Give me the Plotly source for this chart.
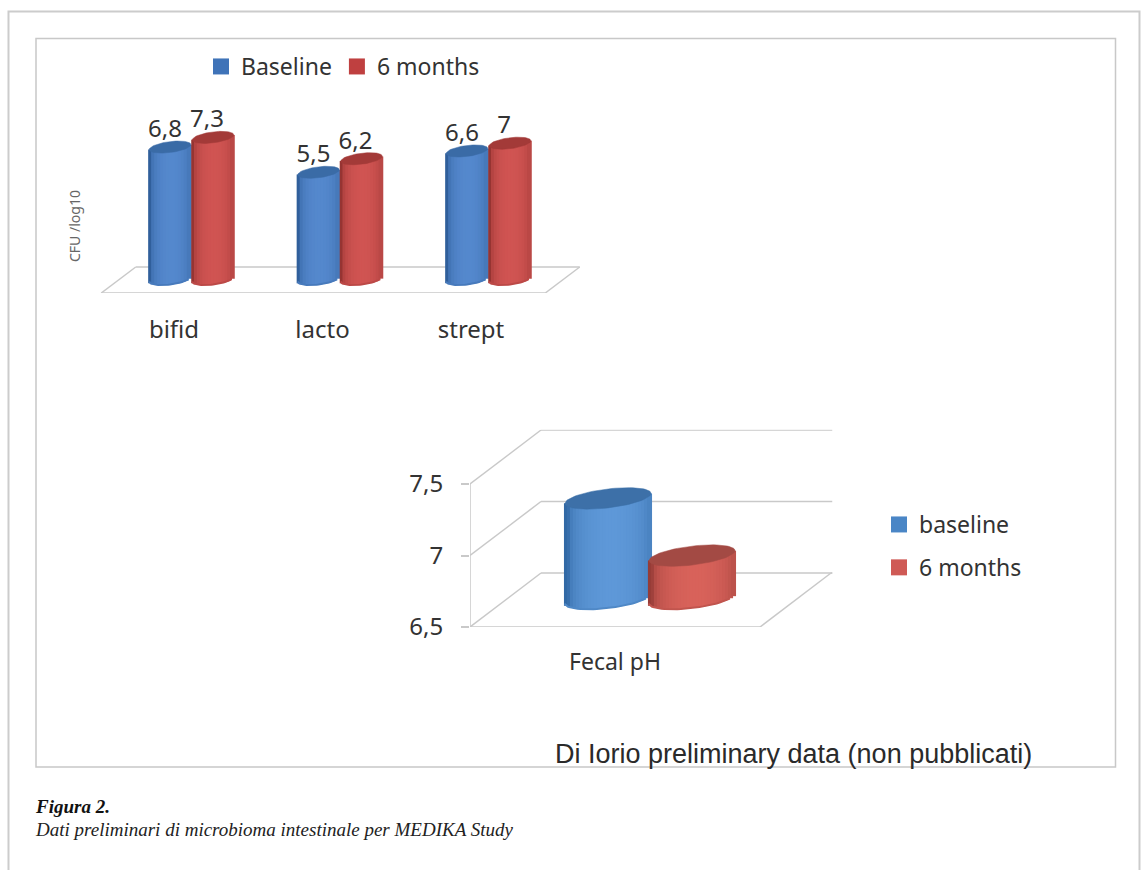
import math
import plotly.graph_objects as go

# ---------- data ----------
categories = ["bifid", "lacto", "strept"]
baseline_cfu = [6.8, 5.5, 6.6]
months6_cfu = [7.3, 6.2, 7.0]
cfu_labels_baseline = ["6,8", "5,5", "6,6"]
cfu_labels_months = ["7,3", "6,2", "7"]
ph_category = ["Fecal pH"]
ph_baseline = [7.2]
ph_months = [6.8]
ph_ticks = [6.5, 7.0, 7.5]
ph_ticktext = ["6,5", "7", "7,5"]

W, H = 1146, 870
GRID = "#c9c9c9"
TEXT = "#333333"
BODY = "Noto Sans"

# ---------- axis geometry (pixels) ----------
A = dict(x_zero=174, x_unit=148.5, x_lo=-0.5, x_hi=2.75, y_zero=293, y_unit=19.4, y_lo=0, y_hi=8.6,
         dx=17.5, dy=14, half=20.8, ell=5.5, tilt=2.5)
B = dict(x_zero=615, x_unit=290, x_lo=-0.5, x_hi=0.75, y_zero=627, y_unit=143, y_lo=6.5, y_hi=7.88,
         dx=35, dy=28.5, half=43, ell=9.5, tilt=5)


def dom_x(g):
    return [(g["x_zero"] + g["x_lo"] * g["x_unit"]) / W, (g["x_zero"] + g["x_hi"] * g["x_unit"]) / W]


def dom_y(g):
    return [(H - g["y_zero"]) / H, (H - g["y_zero"] + (g["y_hi"] - g["y_lo"]) * g["y_unit"]) / H]


def mix(c1, c2, t):
    return "rgb(" + ",".join(str(round(a + (b - a) * t)) for a, b in zip(c1, c2)) + ")"


def cylinder(fig, g, xa, ya, xc, value, y0, edge, mid, top, strips):
    """One shaded cylinder: vertical bar strips from the value, then the top ellipse."""
    sx, sy = g["x_unit"], g["y_unit"]
    hw = g["half"] / sx
    xs, tops, bases, cols = [], [], [], []
    for i in range(strips):
        u = -1 + (2 * i + 1) / strips
        xs.append(xc + u * hw)
        tilt = g["tilt"] * u / sy
        sag = g["ell"] * math.sqrt(1 - u * u) / sy
        b = y0 + g["dy"] / sy - sag + tilt
        tp = value + g["dy"] / sy + tilt
        bases.append(b)
        tops.append(tp - b)
        shade = math.sqrt(1 - (u - 0.1) ** 2) if abs(u - 0.1) < 1 else 0
        cols.append(mix(edge, mid, min(1, shade ** 0.8)))
    fig.add_trace(go.Bar(x=xs, y=tops, base=bases, width=2 * hw / strips * 1.7, xaxis=xa, yaxis=ya,
                         marker=dict(color=cols, line_width=0), showlegend=False, hoverinfo="skip"))
    # soften the stepped lower edge of the strips (stops short of the neighbouring cylinder)
    ax, ay = [], []
    for j in range(6, 37):
        th = math.pi * j / 36
        ax.append(xc + hw * math.cos(th))
        ay.append(y0 + g["dy"] / sy + (-g["ell"] * math.sin(th) + g["tilt"] * math.cos(th)) / sy)
    fig.add_trace(go.Scatter(x=ax, y=ay, mode="lines", line=dict(color=mix(edge, mid, 0.65), width=2),
                             xaxis=xa, yaxis=ya, showlegend=False, hoverinfo="skip"))
    ex, ey = [], []
    for j in range(73):
        th = 2 * math.pi * j / 72
        ex.append(xc + hw * math.cos(th))
        ey.append(value + g["dy"] / sy + (g["ell"] * math.sin(th) + g["tilt"] * math.cos(th)) / sy)
    fig.add_trace(go.Scatter(x=ex, y=ey, mode="lines", fill="toself", fillcolor=top, line=dict(color=top, width=0.5),
                             xaxis=xa, yaxis=ya, showlegend=False, hoverinfo="skip"))


grid_shapes = []


def line(xs, ys, xa, ya):
    for k in range(len(xs) - 1):
        grid_shapes.append(dict(type="line", xref=xa, yref=ya, x0=xs[k], x1=xs[k + 1], y0=ys[k], y1=ys[k + 1],
                                layer="below", line=dict(color=GRID, width=1.5)))


fig = go.Figure()

# ---------- chart 1: CFU ----------
ax0, ax1 = A["x_lo"] + 0.01, 2.5
back_dx = 34.5 / A["x_unit"]
back_y = 26 / A["y_unit"]
line([ax0, ax1, ax1 + back_dx, ax0 + back_dx, ax0], [0, 0, back_y, back_y, 0], "x", "y")

BLUE_E, BLUE_M, RED_E, RED_M = (48, 95, 155), (84, 136, 205), (150, 52, 50), (208, 84, 82)
off = 21.5 / A["x_unit"]
shift = A["dx"] / A["x_unit"]
for i, c in enumerate(categories):
    cylinder(fig, A, "x", "y", i + shift - off, baseline_cfu[i], 0, BLUE_E, BLUE_M, "#3a6ba6", 14)
    cylinder(fig, A, "x", "y", i + shift + off, months6_cfu[i], 0, RED_E, RED_M, "#a33a38", 15)

lab_y = (A["dy"] + 4) / A["y_unit"]
for vals, texts, dxp in [(baseline_cfu, cfu_labels_baseline, 5), (months6_cfu, cfu_labels_months, 6)]:
    sgn = -off if vals is baseline_cfu else off
    fig.add_trace(go.Scatter(x=[i + shift + sgn - dxp / A["x_unit"] for i in range(3)],
                             y=[v + lab_y for v in vals], text=texts, cliponaxis=False,
                             mode="text", textposition="top center", textfont=dict(family=BODY, size=24, color=TEXT),
                             showlegend=False, hoverinfo="skip", xaxis="x", yaxis="y"))

# ---------- chart 2: pH ----------
bx0, bx1 = -0.5, 0.5
wall_dx = 71 / B["x_unit"]
wall_dy = 54 / B["y_unit"]
for t in ph_ticks:
    if t == ph_ticks[0]:
        line([bx0, bx1, bx1 + wall_dx, B["x_hi"], bx0 + wall_dx, bx0], [t, t, t + wall_dy, t + wall_dy, t + wall_dy, t], "x2", "y2")
    else:
        line([bx0, bx0 + wall_dx, B["x_hi"]], [t, t + wall_dy, t + wall_dy], "x2", "y2")
line([bx0, bx0], [ph_ticks[0], ph_ticks[-1]], "x2", "y2")
tick_drop = 6 / B["y_unit"]
line([bx0, bx0], [ph_ticks[0], ph_ticks[0] - tick_drop], "x2", "y2")
line([bx1, bx1], [ph_ticks[0], ph_ticks[0] - tick_drop], "x2", "y2")

off2 = 42 / B["x_unit"]
shift2 = B["dx"] / B["x_unit"]
cylinder(fig, B, "x2", "y2", shift2 - off2, ph_baseline[0], ph_ticks[0], (50, 105, 165), (94, 152, 216), "#3d70a8", 29)
cylinder(fig, B, "x2", "y2", shift2 + off2, ph_months[0], ph_ticks[0], (150, 60, 55), (216, 98, 90), "#a34a44", 29)

# ---------- legends ----------
for name, col, lg in [("Baseline", "#3f73b8", "legend"), ("6 months", "#bf4040", "legend")]:
    fig.add_trace(go.Scatter(x=[None], y=[None], mode="markers", name=name, legend=lg, xaxis="x", yaxis="y",
                             marker=dict(symbol="square", size=16, color=col)))
for name, col in [("baseline", "#4a86c6"), ("6 months", "#cf5a55")]:
    fig.add_trace(go.Scatter(x=[None], y=[None], mode="markers", name=name, legend="legend2", legendgroup=name,
                             xaxis="x2", yaxis="y2", marker=dict(symbol="square", size=16, color=col)))

# ---------- layout ----------
outer = dict(type="path", xref="paper", yref="paper", path="M %f 0 L %f %f L %f %f L %f 0" % (
    8.5 / W, 8.5 / W, 1 - 11.5 / H, 1139.5 / W, 1 - 11.5 / H, 1139.5 / W),
    line=dict(color="#cccccc", width=2))
inner = dict(type="rect", xref="paper", yref="paper", x0=36 / W, x1=1115.5 / W, y0=1 - 767 / H, y1=1 - 38.5 / H,
             line=dict(color="#c8c8c8", width=1.5))

fig.update_layout(
    width=W, height=H, margin=dict(l=0, r=0, t=0, b=0, autoexpand=False), autosize=False,
    paper_bgcolor="white", plot_bgcolor="rgba(0,0,0,0)", barmode="overlay",
    shapes=[outer, inner] + grid_shapes,
    xaxis=dict(domain=dom_x(A), range=[A["x_lo"], A["x_hi"]], tickvals=[0, 1, 2], ticktext=categories,
               ticks="outside", ticklen=15, tickcolor="rgba(0,0,0,0)", showgrid=False, zeroline=False, showline=False,
               tickfont=dict(family=BODY, size=24, color=TEXT), anchor="y", fixedrange=True),
    yaxis=dict(domain=dom_y(A), range=[A["y_lo"], A["y_hi"]], showticklabels=False, ticks="", showgrid=False,
               zeroline=False, showline=False, anchor="x", fixedrange=True),
    xaxis2=dict(domain=dom_x(B), range=[B["x_lo"], B["x_hi"]], tickvals=[0], ticktext=ph_category,
                ticks="outside", ticklen=14, tickcolor="rgba(0,0,0,0)", showgrid=False, zeroline=False, showline=False,
                tickfont=dict(family=BODY, size=23, color=TEXT), anchor="y2", fixedrange=True),
    yaxis2=dict(domain=dom_y(B), range=[B["y_lo"], B["y_hi"]], tickvals=ph_ticks, ticktext=ph_ticktext,
                ticks="outside", ticklen=8, tickcolor=GRID, tickwidth=1.5, showgrid=False, zeroline=False, showline=False,
                ticklabelstandoff=13,
                tickfont=dict(family=BODY, size=24, color=TEXT), anchor="x2", fixedrange=True),
    legend=dict(orientation="h", x=201 / W, y=1 - 45 / H, xanchor="left", yanchor="top",
                bgcolor="rgba(0,0,0,0)",
                font=dict(family=BODY, size=23, color=TEXT),
                itemclick=False, itemdoubleclick=False),
    legend2=dict(x=879 / W, y=1 - 503 / H, xanchor="left", yanchor="top",
                 bgcolor="rgba(0,0,0,0)",
                 font=dict(family=BODY, size=23, color=TEXT), traceorder="grouped", tracegroupgap=10,
                 itemclick=False, itemdoubleclick=False),
    annotations=[
        dict(text="CFU /log10", xref="paper", yref="paper", x=75 / W, y=1 - 226 / H, xanchor="center", yanchor="middle",
             textangle=-90, showarrow=False, font=dict(family=BODY, size=14, color="#666666")),
        dict(text="Di Iorio preliminary data (non pubblicati)", xref="paper", yref="paper", x=1034 / W, y=1 - 754 / H,
             xanchor="right", yanchor="middle", showarrow=False, font=dict(family="Liberation Sans", size=27, color="#2a2a2a")),
        dict(text="<b><i>Figura 2.</i></b>", xref="paper", yref="paper", x=33 / W, y=1 - 806 / H, xanchor="left", yanchor="middle",
             showarrow=False, font=dict(family="Liberation Serif", size=19, color="#111111")),
        dict(text="<i>Dati preliminari di microbioma intestinale per MEDIKA Study</i>", xref="paper", yref="paper",
             x=33 / W, y=1 - 829 / H, xanchor="left", yanchor="middle", showarrow=False,
             font=dict(family="Liberation Serif", size=19, color="#222222")),
    ],
)

fig.write_html("out.html", config=dict(displayModeBar=False), post_script="document.body.style.margin='0';")
